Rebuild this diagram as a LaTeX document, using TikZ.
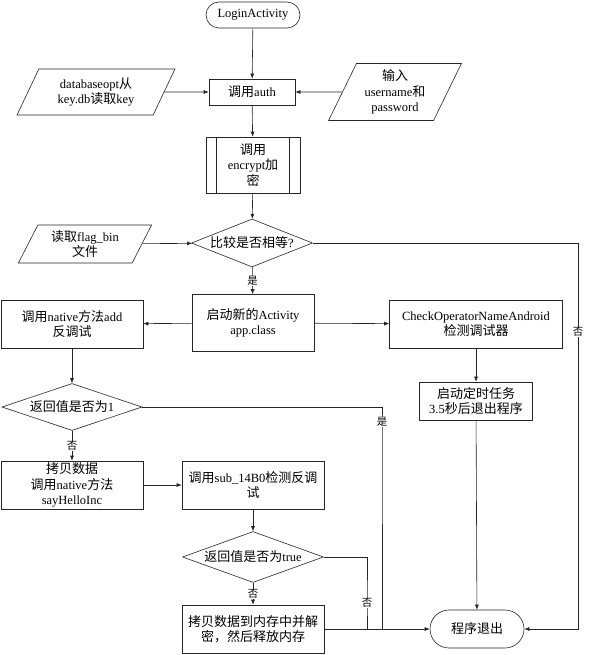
\documentclass[tikz,border=0pt]{standalone}
\usepackage{fontspec}
\setmainfont{Liberation Serif}
\newfontfamily\cjk[Scale=1.04]{Noto Sans CJK SC}
\usetikzlibrary{shapes.geometric,arrows.meta}
\newcommand\zh[1]{{\cjk #1}}
\begin{document}
\begin{tikzpicture} [
                x=1pt, y=-1pt,
                every node/.style={font=\fontsize{12.5}{15.5}\selectfont, align=center, inner sep=1pt},
                proc/.style={draw=black!85, line width=0.6pt, rectangle, minimum width=142pt, minimum height=48pt},
                term/.style={draw=black!85, line width=0.6pt, rectangle, rounded corners=13pt, minimum width=94pt, minimum height=26pt},
                io/.style={draw=black!85, line width=0.6pt, trapezium, trapezium left angle=64, trapezium right angle=116,
                           trapezium stretches=true},
                test/.style={draw=black!85, line width=0.6pt, diamond, aspect=2.5, minimum width=121pt, minimum height=48pt, inner sep=0pt},
                lab/.style={fill=white, font=\fontsize{10}{12}\selectfont, inner sep=0.5pt},
                edge/.style = {draw=black!85, line width=0.6pt, -{Latex[length=5pt,width=4pt]}},
                line/.style = {draw=black!85, line width=0.6pt},
            ]
            \useasboundingbox[fill=white] (0,0) rectangle (589,655);
            % start and input
            \node[term] (login) at (253,15) {LoginActivity};
            \node[proc, minimum width=86pt, minimum height=26pt] (auth) at (252,92) {\zh{调用}auth};
            \node[io, minimum width=158pt, minimum height=46pt] (db) at (96,92) {databaseopt\zh{从}\\key.db\zh{读取}key};
            \node[io, minimum width=133pt, minimum height=57pt] (input) at (395,92) {\zh{输入}\\username\zh{和}\\password};
            \node[proc, minimum width=94pt, minimum height=56pt] (enc) at (253,165) {\zh{调用}\\encrypt\zh{加}\\\zh{密}};
            \draw[line] ([xshift=11pt]enc.north west) -- ([xshift=11pt]enc.south west);
            \draw[line] ([xshift=-11pt]enc.north east) -- ([xshift=-11pt]enc.south east);
            \node[test] (cmp) at (252,243) {\zh{比较是否相等}?};
            \node[io, minimum width=134pt, minimum height=38pt] (flag) at (85,244) {\zh{读取}flag\_bin\\\zh{文件}};
            % second level
            \node[proc, minimum width=122pt, minimum height=57pt] (act) at (253,323) {\zh{启动新的}Activity\\app.class};
            \node[proc] (add) at (72,324) {\zh{调用}native\zh{方法}add\\\zh{反调试}};
            \node[proc, minimum width=173pt] (chk) at (476,324) {CheckOperatorNameAndroid\\\zh{检测调试器}};
            \node[proc, minimum width=113pt, minimum height=38pt] (timer) at (476,401) {\zh{启动定时任务}\\3.5\zh{秒后退出程序}};
            \node[test, minimum width=140pt, minimum height=47pt] (ret1) at (72,407) {\zh{返回值是否为}1};
            \node[proc] (copy) at (72,485) {\zh{拷贝数据}\\\zh{调用}native\zh{方法}\\sayHelloInc};
            \node[proc] (sub) at (253,485) {\zh{调用}sub\_14B0\zh{检测反调}\\\zh{试}};
            \node[test, minimum width=141pt] (rett) at (253,557) {\zh{返回值是否为}true};
            \node[proc] (dec) at (253,629) {\zh{拷贝数据到内存中并解}\\\zh{密，然后释放内存}};
            \node[term, minimum height=38pt, rounded corners=19pt] (exitn) at (477,629) {\zh{程序退出}};
            \coordinate (no1) at (578,332);
            \coordinate (yes1) at (382,422);
            \coordinate (no2) at (367,603);
            \foreach \source/ \dest in {
                    login/auth,db/auth,input/auth,auth/enc,enc/cmp,flag/cmp,act/add,act/chk,
                    add/ret1,copy/sub,sub/rett,chk/timer,timer/exitn,dec/exitn}
                \path[edge] (\source) -- (\dest);
            \path[edge] (cmp) -- node[lab] {\zh{是}} (act);
            \path[edge] (ret1) -- node[lab] {\zh{否}} (copy);
            \path[edge] (rett) -- node[lab] {\zh{否}} (dec);
            \path[edge] (cmp.east) -| (no1) node[lab] {\zh{否}} |- (exitn.east);
            \path[line] (ret1.east) -| (yes1) node[lab] {\zh{是}} -- (yes1 |- dec.east);
            \path[line] (rett.east) -| (no2) node[lab] {\zh{否}} -- (no2 |- dec.east);
        \end{tikzpicture}
\end{document}
